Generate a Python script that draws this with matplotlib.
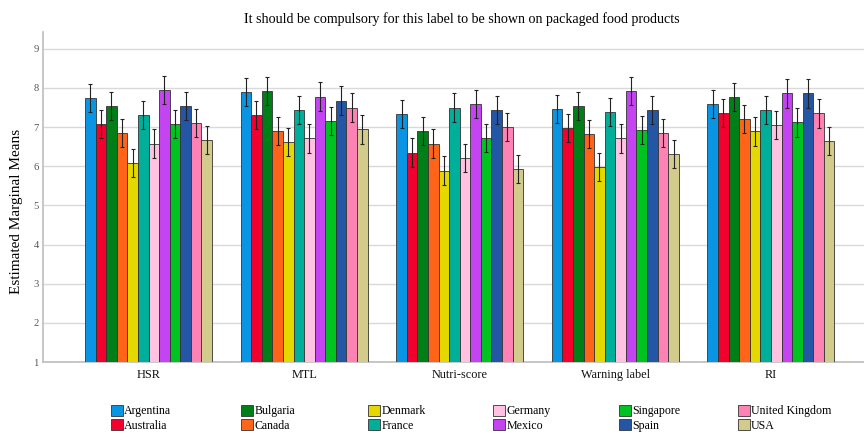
import matplotlib
matplotlib.use("Agg")
import matplotlib.pyplot as plt
import numpy as np
from matplotlib.patches import Patch

categories = ["HSR", "MTL", "Nutri-score", "Warning label", "RI"]
countries = ["Argentina", "Australia", "Bulgaria", "Canada", "Denmark", "France",
             "Germany", "Mexico", "Singapore", "Spain", "United Kingdom", "USA"]

# estimated marginal means per country, across categories
argentina = [7.74, 7.90, 7.34, 7.46, 7.60]
australia = [7.09, 7.31, 6.35, 6.97, 7.37]
bulgaria = [7.54, 7.92, 6.91, 7.55, 7.77]
canada = [6.86, 6.91, 6.58, 6.82, 7.21]
denmark = [6.09, 6.61, 5.89, 5.99, 6.89]
france = [7.32, 7.43, 7.50, 7.39, 7.43]
germany = [6.58, 6.71, 6.22, 6.71, 7.05]
mexico = [7.94, 7.78, 7.60, 7.93, 7.86]
singapore = [7.09, 7.15, 6.72, 6.93, 7.12]
spain = [7.55, 7.68, 7.43, 7.44, 7.86]
uk = [7.10, 7.50, 7.00, 6.85, 7.35]
usa = [6.67, 6.94, 5.93, 6.32, 6.65]

# half-width of 95% CI error bars
ci_half = [0.36, 0.36, 0.36, 0.36, 0.36]

series = [argentina, australia, bulgaria, canada, denmark, france,
          germany, mexico, singapore, spain, uk, usa]
colors = ["#0A94E4", "#F2002E", "#007F18", "#FF6419", "#E4D800", "#00AF9A",
          "#FFC2E0", "#C444F2", "#00C322", "#2456A6", "#FF82B4", "#D2CB8C"]

fig = plt.figure(figsize=(8.64, 4.34), dpi=100)
W, H = 864, 434
ax = fig.add_axes([43 / W, (H - 362) / H, (864 - 43) / W, (362 - 32) / H])

serif = ["Liberation Serif", "DejaVu Serif"]
x = np.arange(len(categories))
n = len(countries)
bw = 0.068
for i, (vals, col) in enumerate(zip(series, colors)):
    pos = x + (i - (n - 1) / 2) * bw
    ax.bar(pos, vals, width=bw, bottom=0, color=col, edgecolor="#333333",
           linewidth=0.6, zorder=3)
    ax.errorbar(pos, vals, yerr=ci_half, fmt="none", ecolor="#222222",
                elinewidth=0.8, capsize=1.6, capthick=0.8, zorder=4)

ax.set_ylim(1, 9.43)
ax.set_xlim(-0.678, 4.598)
ax.set_yticks(range(1, 10))
ax.set_xticks(x)
ax.set_xticklabels(categories, fontfamily=serif, fontsize=8.8, color="#111111")
for lab in ax.get_yticklabels():
    lab.set_fontfamily(serif)
ax.tick_params(axis="y", length=0, pad=3, labelsize=7.6, labelcolor="#555555")
ax.tick_params(axis="x", length=0, pad=5)
ax.grid(axis="y", color="#d9d9d9", linewidth=1.0, zorder=0)
for s in ["top", "right"]:
    ax.spines[s].set_visible(False)
for s in ["left", "bottom"]:
    ax.spines[s].set_color("#bdbdbd")
    ax.spines[s].set_linewidth(1.2)

fig.text(17 / W, 1 - 211 / H, "Estimated Marginal Means", rotation=90,
         ha="center", va="center", fontfamily=serif, fontsize=11)
fig.text(461.5 / W, 1 - 19 / H,
         "It should be compulsory for this label to be shown on packaged food products",
         ha="center", va="center", fontfamily=serif, fontsize=10.1)

col_x = [113, 243, 370, 495, 621, 740]
for c in range(6):
    handles = [Patch(facecolor=colors[2 * c + r], edgecolor="#333333", linewidth=0.6)
               for r in range(2)]
    labels = [countries[2 * c + r] for r in range(2)]
    fig.legend(handles, labels, loc="upper left",
               bbox_to_anchor=((col_x[c] - 2) / W, 1 - 405 / H),
               frameon=False, prop={"family": serif, "size": 8.6},
               handlelength=1.0, handleheight=1.0, handletextpad=0.1,
               labelspacing=0.15, borderpad=0, borderaxespad=0)

fig.savefig("out.png", dpi=100)
